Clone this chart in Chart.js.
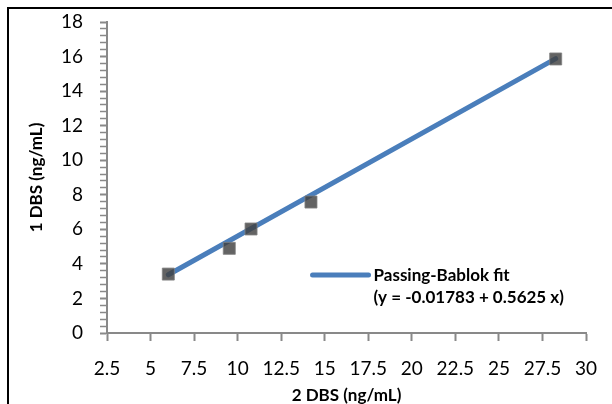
<!DOCTYPE html>
<html>
<head>
<meta charset="utf-8">
<script src="https://cdn.jsdelivr.net/npm/chart.js@4.4.1/dist/chart.umd.min.js"></script>
<style>
  html, body { margin: 0; padding: 0; background: #fff; }
  #wrap { width: 612px; height: 404px; position: relative; }
</style>
</head>
<body>
<div id="wrap"><canvas id="c" width="612" height="404"></canvas></div>
<script>
// ---- data ----
const xValues = [6.02, 9.52, 10.77, 14.21, 28.26];   // 2 DBS (ng/mL)
const yValues = [3.41, 4.90, 6.02, 7.58, 15.86];      // 1 DBS (ng/mL)
const fitX = [6.02, 28.26];                            // Passing-Bablok fit endpoints
const fitY = [3.37, 15.88];
const xTicks = [2.5, 5, 7.5, 10, 12.5, 15, 17.5, 20, 22.5, 25, 27.5, 30];
const yTicks = [0, 2, 4, 6, 8, 10, 12, 14, 16, 18];
const legendLines = ['Passing-Bablok fit', '(y = -0.01783 + 0.5625 x)'];
const xTitle = '2 DBS (ng/mL)';
const yTitle = '1 DBS (ng/mL)';

const FONT = 'Lato, "Open Sans", sans-serif';
const AXIS = '#898989';

const framePlugin = {
  id: 'frame',
  beforeDraw(chart) {
    const ctx = chart.ctx;
    ctx.save();
    ctx.fillStyle = '#fff';
    ctx.fillRect(0, 0, chart.width, chart.height);
    ctx.strokeStyle = '#000';
    ctx.lineWidth = 2;
    ctx.beginPath();
    ctx.moveTo(8, chart.height);
    ctx.lineTo(8, 8);
    ctx.lineTo(chart.width, 8);
    ctx.stroke();
    ctx.restore();
  }
};

const legendPlugin = {
  id: 'customLegend',
  afterDraw(chart) {
    const ctx = chart.ctx;
    const xs = chart.scales.x, ys = chart.scales.y;
    const lx = xs.getPixelForValue(14.3), ly = ys.getPixelForValue(3.35);
    ctx.save();
    ctx.strokeStyle = '#4A7EBB';
    ctx.lineWidth = 5;
    ctx.lineCap = 'round';
    ctx.beginPath();
    ctx.moveTo(lx, ly);
    ctx.lineTo(lx + 56, ly);
    ctx.stroke();
    ctx.fillStyle = '#000';
    ctx.font = 'bold 17px ' + FONT;
    ctx.textBaseline = 'middle';
    ctx.fillText(legendLines[0], lx + 61, ly);
    ctx.fillText(legendLines[1], lx + 61, ly + 22);
    ctx.restore();
  }
};

new Chart(document.getElementById('c'), {
  data: {
    datasets: [
      {
        type: 'scatter',
        label: 'data',
        order: 0,
        data: xValues.map((x, i) => ({ x: x, y: yValues[i] })),
        pointStyle: 'rect',
        pointRadius: 8.5,
        pointHoverRadius: 8.5,
        backgroundColor: 'rgba(65,65,65,0.82)',
        borderColor: 'rgba(130,130,130,0.8)',
        borderWidth: 1
      },
      {
        type: 'line',
        label: legendLines[0],
        order: 1,
        data: fitX.map((x, i) => ({ x: x, y: fitY[i] })),
        borderColor: '#4A7EBB',
        borderWidth: 5,
        borderCapStyle: 'round',
        pointRadius: 0,
        fill: false,
        tension: 0
      }
    ]
  },
  options: {
    responsive: false,
    animation: false,
    events: [],
    layout: { padding: { top: 22, right: 26, left: 0, bottom: 0 } },
    plugins: { legend: { display: false }, tooltip: { enabled: false } },
    scales: {
      x: {
        type: 'linear',
        min: xTicks[0], max: xTicks[xTicks.length - 1],
        afterBuildTicks(scale) { scale.ticks = xTicks.map(v => ({ value: v })); },
        afterFit(scale) { scale.height = 71; scale.paddingLeft = 0; scale.paddingRight = 0; },
        border: { display: true, color: AXIS, width: 2 },
        grid: { drawOnChartArea: false, drawTicks: true, tickLength: 8, tickColor: AXIS, tickWidth: 2 },
        ticks: { color: '#000', font: { family: FONT, size: 19 }, padding: 16, maxRotation: 0, autoSkip: false,
                 callback: v => String(v) },
        title: { display: true, text: xTitle, color: '#000', font: { family: FONT, size: 17, weight: 'bold' }, padding: { top: 0, bottom: -2 } }
      },
      y: {
        type: 'linear',
        min: yTicks[0], max: yTicks[yTicks.length - 1],
        afterBuildTicks(scale) {
          const t = [];
          for (let i = 0; i < yTicks.length - 1; i++) {
            const a = yTicks[i], b = yTicks[i + 1];
            for (let k = 0; k < 5; k++) t.push({ value: a + (b - a) * k / 5, major: k === 0 });
          }
          t.push({ value: yTicks[yTicks.length - 1], major: true });
          scale.ticks = t;
        },
        afterFit(scale) { scale.width = 107; scale.paddingTop = 0; scale.paddingBottom = 0; },
        border: { display: true, color: AXIS, width: 2 },
        grid: { drawOnChartArea: false, drawTicks: true, tickLength: 7, tickColor: AXIS,
                tickWidth: ctx => (ctx.tick && ctx.tick.major ? 2 : 1.5) },
        ticks: { color: '#000', font: { family: FONT, size: 19 }, padding: 17, autoSkip: false,
                 callback: function (v, i, ticks) { return ticks[i].major ? String(v) : ''; } },
        title: { display: true, text: yTitle, color: '#000', font: { family: FONT, size: 17, weight: 'bold' }, padding: { top: 26, bottom: 0 } }
      }
    }
  },
  plugins: [framePlugin, legendPlugin]
});
</script>
</body>
</html>
